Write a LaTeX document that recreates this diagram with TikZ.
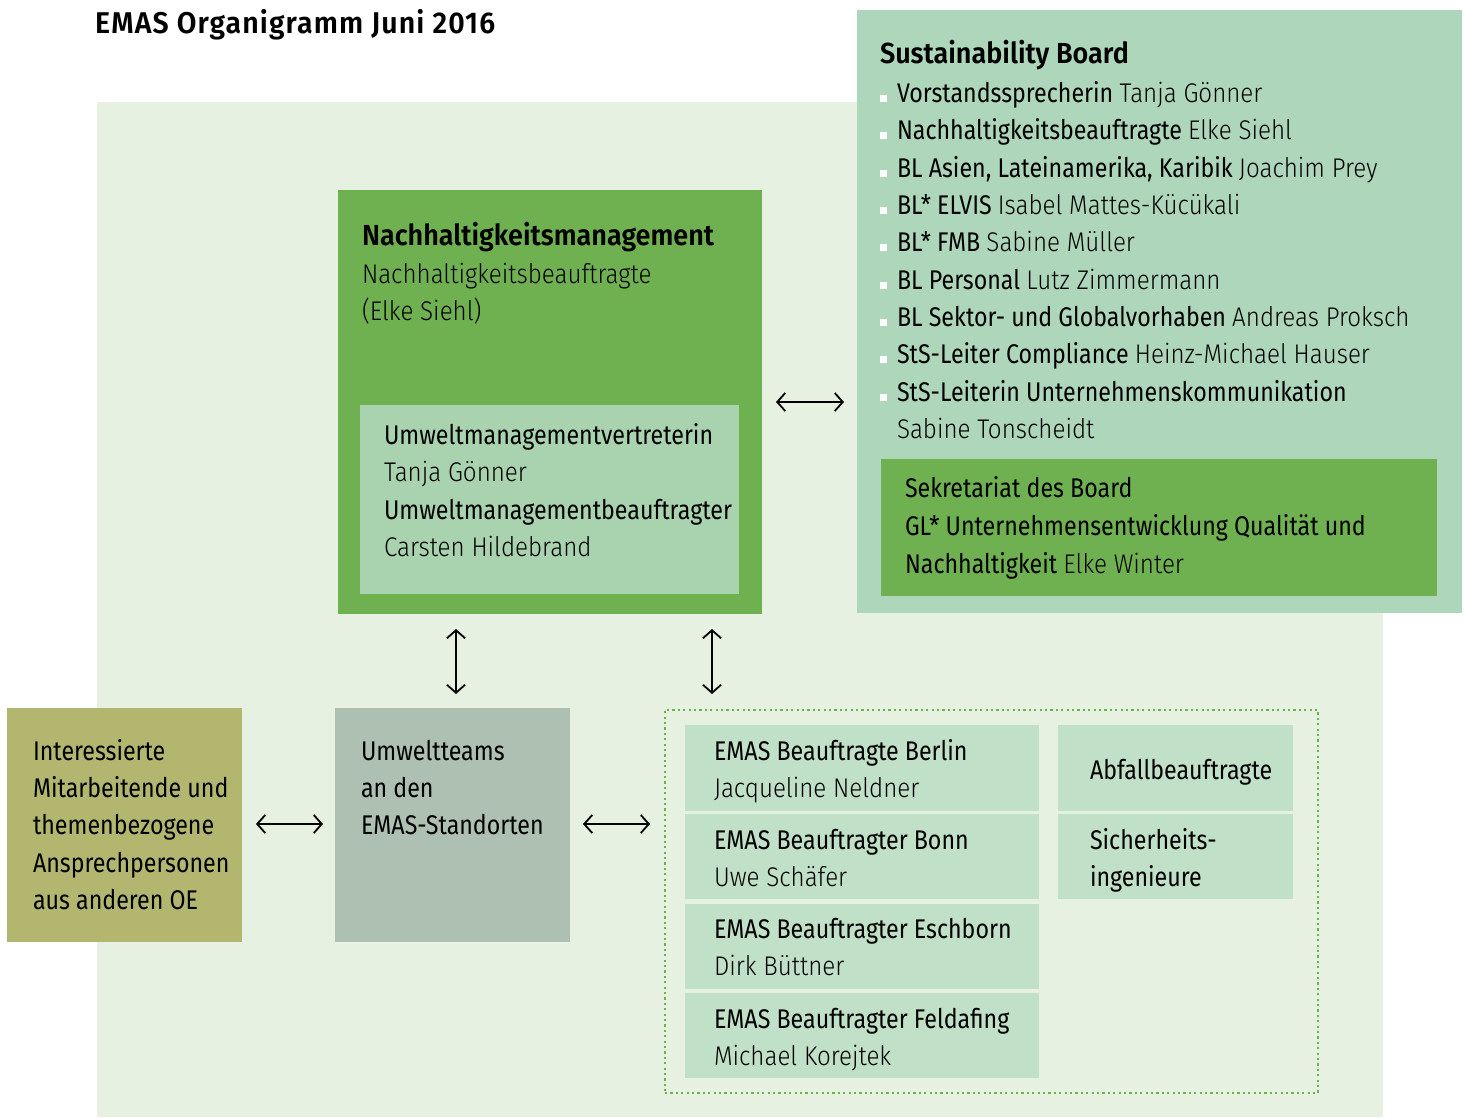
\documentclass[tikz,border=0pt]{standalone}
\usepackage{fontspec}
\setmainfont{Fira Sans}[FakeStretch=0.86]
\newfontfamily\lightfont{Fira Sans Light}[FakeStretch=0.895]
\newfontfamily\headfont{Fira Sans SemiBold}[FakeStretch=0.93]
\newfontfamily\maintitlefont{Fira Sans SemiBold}[FakeStretch=0.95, LetterSpace=3.7]
\usetikzlibrary{arrows.meta}
\definecolor{bglight}{RGB}{230,241,225}
\definecolor{sbgreen}{RGB}{173,214,187}
\definecolor{midgreen}{RGB}{111,176,80}
\definecolor{innergreen}{RGB}{168,211,174}
\definecolor{olive}{RGB}{179,182,111}
\definecolor{greygreen}{RGB}{173,192,177}
\definecolor{emasgreen}{RGB}{193,224,200}
\newcommand\fsbody{\fontsize{27}{33}\selectfont}
\newcommand\fstitle{\fontsize{29}{35}\selectfont\headfont}
\newcommand\fsmain{\fontsize{30}{36}\selectfont\maintitlefont}
\tikzset{
  box/.style={anchor=north west, inner sep=0pt, outer sep=0pt, draw=none},
  tx/.style={anchor=base west, inner sep=0pt, outer sep=0pt, font=\fsbody},
  ttl/.style={anchor=base west, inner sep=0pt, outer sep=0pt, font=\fstitle},
  arr/.style={{Straight Barb[length=8pt,width=18pt,line width=1.8pt]}-{Straight Barb[length=8pt,width=18pt,line width=1.8pt]}, line width=1.8pt, black},
  bullet/.style={fill=white}
}
\begin{document}
\begin{tikzpicture}[x=1pt,y=-1pt]
\useasboundingbox (0,0) rectangle (1469,1117);
\fill[white] (0,0) rectangle (1469,1117);
% background
\node[box, fill=bglight, minimum width=1286pt, minimum height=1015pt] (bg) at (97,102) {};
\node[anchor=base west, inner sep=0pt, font=\fsmain] (title) at (95,33) {EMAS Organigramm Juni 2016};
% Sustainability board
\node[box, fill=sbgreen, minimum width=605pt, minimum height=603pt] (sb) at (857,10) {};
\node[ttl] (sbt) at (880,63) {Sustainability Board};
\foreach \yy in {102,139,177,214,251,289,326,363,401}{
  \fill[bullet] (880,\yy-7) rectangle (887,\yy);
}
\node[tx] (s1) at (897,102) {Vorstandssprecherin {\lightfont Tanja Gönner}};
\node[tx] (s2) at (897,139) {Nachhaltigkeitsbeauftragte {\lightfont Elke Siehl}};
\node[tx] (s3) at (897,177) {BL Asien, Lateinamerika, Karibik {\lightfont Joachim Prey}};
\node[tx] (s4) at (897,214) {BL* ELVIS {\lightfont Isabel Mattes-Kücükali}};
\node[tx] (s5) at (897,251) {BL* FMB {\lightfont Sabine Müller}};
\node[tx] (s6) at (897,289) {BL Personal {\lightfont Lutz Zimmermann}};
\node[tx] (s7) at (897,326) {BL Sektor- und Globalvorhaben {\lightfont Andreas Proksch}};
\node[tx] (s8) at (897,363) {StS-Leiter Compliance {\lightfont Heinz-Michael Hauser}};
\node[tx] (s9) at (897,401) {StS-Leiterin Unternehmenskommunikation};
\node[tx] (s10) at (897,438) {\lightfont Sabine Tonscheidt};
\node[box, fill=midgreen, minimum width=556pt, minimum height=137pt] (sek) at (881,459) {};
\node[tx] (k1) at (905,497) {Sekretariat des Board};
\node[tx] (k2) at (905,535) {GL* Unternehmensentwicklung Qualität und};
\node[tx] (k3) at (905,573) {Nachhaltigkeit {\lightfont Elke Winter}};
% Nachhaltigkeitsmanagement
\node[box, fill=midgreen, minimum width=424pt, minimum height=424pt] (nm) at (338,190) {};
\node[ttl] (nmt) at (362,245) {Nachhaltigkeitsmanagement};
\node[tx] (n1) at (362,283) {\lightfont Nachhaltigkeitsbeauftragte};
\node[tx] (n2) at (362,320) {\lightfont (Elke Siehl)};
\node[box, fill=innergreen, minimum width=379pt, minimum height=189pt] (nmi) at (360,405) {};
\node[tx] (i1) at (384,444) {Umweltmanagementvertreterin};
\node[tx] (i2) at (384,481) {\lightfont Tanja Gönner};
\node[tx] (i3) at (384,519) {Umweltmanagementbeauftragter};
\node[tx] (i4) at (384,556) {\lightfont Carsten Hildebrand};
% bottom left
\node[box, fill=olive, minimum width=235pt, minimum height=234pt] (lo) at (7,708) {};
\node[tx] (l1) at (33,760) {Interessierte};
\node[tx] (l2) at (33,797) {Mitarbeitende und};
\node[tx] (l3) at (33,834) {themenbezogene};
\node[tx] (l4) at (33,872) {Ansprechpersonen};
\node[tx] (l5) at (33,909) {aus anderen OE};
\node[box, fill=greygreen, minimum width=235pt, minimum height=234pt] (ut) at (335,708) {};
\node[tx] (u1) at (361,760) {Umweltteams};
\node[tx] (u2) at (361,797) {an den};
\node[tx] (u3) at (361,834) {EMAS-Standorten};
% dotted frame
\node[box, draw=midgreen, line width=2.2pt, dash pattern=on 2.2pt off 3.2pt, minimum width=653pt, minimum height=383pt] (fr) at (665,710) {};
\node[box, fill=emasgreen, minimum width=354pt, minimum height=86pt] (e1) at (685,725) {};
\node[box, fill=emasgreen, minimum width=354pt, minimum height=85pt] (e2) at (685,814) {};
\node[box, fill=emasgreen, minimum width=354pt, minimum height=85pt] (e3) at (685,904) {};
\node[box, fill=emasgreen, minimum width=354pt, minimum height=85pt] (e4) at (685,993) {};
\node[box, fill=emasgreen, minimum width=235pt, minimum height=86pt] (r1) at (1058,725) {};
\node[box, fill=emasgreen, minimum width=235pt, minimum height=85pt] (r2) at (1058,814) {};
\node[tx] (e1a) at (714,760) {EMAS Beauftragte Berlin};
\node[tx] (e1b) at (714,797) {\lightfont Jacqueline Neldner};
\node[tx] (e2a) at (714,849) {EMAS Beauftragter Bonn};
\node[tx] (e2b) at (714,886) {\lightfont Uwe Schäfer};
\node[tx] (e3a) at (714,938) {EMAS Beauftragter Eschborn};
\node[tx] (e3b) at (714,975) {\lightfont Dirk Büttner};
\node[tx] (e4a) at (714,1028) {EMAS Beauftragter Feldafing};
\node[tx] (e4b) at (714,1065) {\lightfont Michael Korejtek};
\node[tx] (r1a) at (1090,779) {Abfallbeauftragte};
\node[tx] (r2a) at (1090,849) {Sicherheits-};
\node[tx] (r2b) at (1090,886) {ingenieure};
% arrows
\draw[arr, shorten <=14pt, shorten >=13pt] (nm.east |- 0,402) -- (sb.west |- 0,402);
\draw[arr, shorten <=15pt, shorten >=14pt] (nm.south -| 456,0) -- (ut.north -| 456,0);
\draw[arr, shorten <=15pt, shorten >=16pt] (nm.south -| 712,0) -- (fr.north -| 712,0);
\draw[arr, shorten <=14pt, shorten >=12pt] (lo.east |- 0,824) -- (ut.west |- 0,824);
\draw[arr, shorten <=13pt, shorten >=15pt] (ut.east |- 0,824) -- (fr.west |- 0,824);
\end{tikzpicture}
\end{document}
